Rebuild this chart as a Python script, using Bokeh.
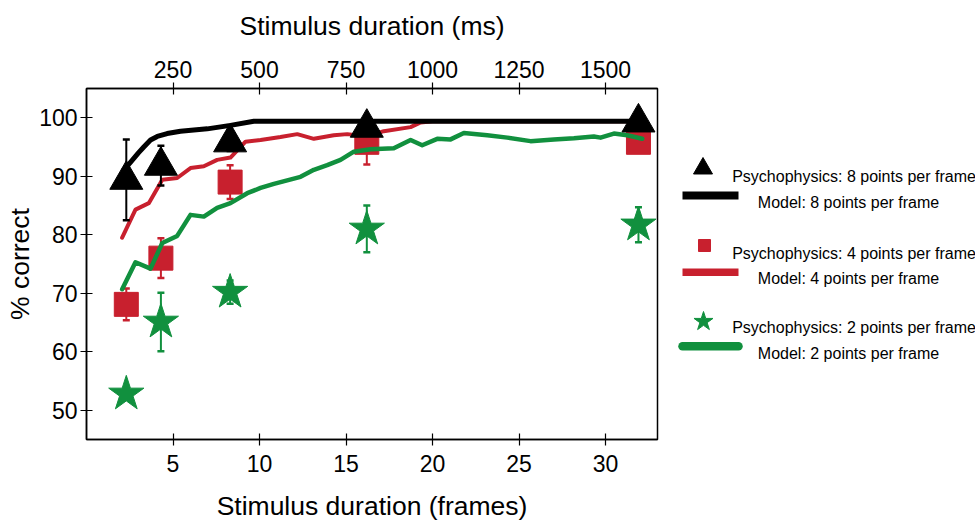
from bokeh.plotting import figure
from bokeh.models import Range1d, LinearAxis, FixedTicker
from bokeh.layouts import row
from bokeh.embed import file_html
from bokeh.resources import INLINE
from bokeh.core.properties import value

FONT = "Liberation Sans"
BLACK = "#000000"
RED = "#c8202e"
GREEN = "#11903e"

# ---------------- data ----------------
frame_ticks = [5, 10, 15, 20, 25, 30]
ms_ticks = [250, 500, 750, 1000, 1250, 1500]
y_ticks = [50, 60, 70, 80, 90, 100]

psy_x = [2.3, 4.3, 8.3, 16.2, 31.9]
psy8_y = [89.4, 91.8, 95.8, 98.3, 99.2]
psy8_err = [6.9, 3.4, 1.5, 1.0, 0.5]
psy4_y = [68.1, 76.0, 89.0, 95.8, 95.8]
psy4_err = [2.7, 3.4, 2.9, 3.8, 1.5]
psy2_y = [52.8, 65.1, 70.2, 81.0, 81.7]
psy2_err = [1.0, 5.0, 2.0, 4.0, 3.0]

model8_x = [2.16, 2.6, 3.0, 3.31, 3.7, 4.09, 4.66, 5.43, 6.98, 8.32, 9.67, 32.0]
model8_y = [91.1, 92.6, 94.0, 95.0, 96.2, 96.8, 97.3, 97.7, 98.1, 98.7, 99.4, 99.4]

model4_x = [2.06, 2.83, 3.60, 4.38, 5.24, 6.01, 6.78, 7.55, 8.32, 9.19, 10.06,
            11.21, 12.18, 13.14, 14.29, 15.07, 16.23, 17.18, 18.73, 19.31, 20.0, 32.0]
model4_y = [79.5, 84.3, 85.4, 89.4, 89.7, 91.4, 91.7, 92.8, 93.2, 95.9, 96.2,
            96.7, 97.2, 96.4, 97.0, 97.2, 96.8, 97.7, 98.4, 99.2, 99.4, 99.4]

model2_x = [2.06, 2.83, 3.70, 4.38, 5.24, 6.01, 6.78, 7.55, 8.32, 9.29, 10.06,
            10.83, 11.60, 12.37, 13.14, 13.91, 14.68, 15.45, 16.42, 17.76, 18.73,
            19.40, 20.27, 21.04, 21.81, 23.16, 24.32, 25.66, 27.01, 28.17, 29.32,
            29.71, 30.48, 31.25, 32.12]
model2_y = [70.7, 75.3, 74.2, 78.6, 79.8, 83.4, 83.1, 84.6, 85.4, 87.1, 88.0,
            88.7, 89.3, 89.9, 91.1, 91.9, 92.8, 94.2, 94.6, 94.8, 96.2,
            95.3, 96.4, 96.3, 97.4, 97.0, 96.6, 96.0, 96.3, 96.5, 96.8,
            96.6, 97.3, 97.0, 96.4]

top_title = "Stimulus duration (ms)"
bottom_title = "Stimulus duration (frames)"
y_title = "% correct"

legend_labels = [
    "Psychophysics: 8 points per frame", "Model: 8 points per frame",
    "Psychophysics: 4 points per frame", "Model: 4 points per frame",
    "Psychophysics: 2 points per frame", "Model: 2 points per frame",
]

H = 523

# ---------------- main plot ----------------
p = figure(width=661, height=H, x_range=Range1d(0, 33), y_range=Range1d(45, 105),
           toolbar_location=None, output_backend="svg",
           x_axis_location=None, y_axis_location=None,
           min_border_left=86, min_border_right=4, min_border_top=88, min_border_bottom=83)
p.frame_align = False
p.grid.visible = False
p.outline_line_color = "black"
p.outline_line_width = 1.5
p.background_fill_color = "white"
p.border_fill_color = "white"

bottom_axis = LinearAxis(ticker=FixedTicker(ticks=frame_ticks), axis_label=bottom_title)
left_axis = LinearAxis(ticker=FixedTicker(ticks=y_ticks), axis_label=y_title)
p.extra_x_ranges = {"ms": Range1d(0, 1650)}
top_axis = LinearAxis(x_range_name="ms", ticker=FixedTicker(ticks=ms_ticks),
                      axis_label=top_title)
p.add_layout(bottom_axis, "below")
p.add_layout(left_axis, "left")
p.add_layout(top_axis, "above")

for ax in [bottom_axis, left_axis, top_axis]:
    ax.axis_line_color = "black"
    ax.axis_line_width = 1.5
    ax.major_tick_line_color = "black"
    ax.major_tick_line_width = 1.2
    ax.major_tick_in = 6
    ax.major_tick_out = 6
    ax.minor_tick_line_color = None
    ax.major_label_text_font = FONT
    ax.major_label_text_font_size = "23px"
    ax.major_label_text_color = "black"
    ax.axis_label_text_font = FONT
    ax.axis_label_text_font_size = "26.5px"
    ax.axis_label_text_font_style = "normal"
    ax.axis_label_text_color = "black"

top_axis.major_label_standoff = 5
top_axis.axis_label_standoff = 17
bottom_axis.major_label_standoff = 9
bottom_axis.axis_label_standoff = 16
left_axis.major_label_standoff = 3
left_axis.axis_label_standoff = 1


def err_bars(fig, xs, ys, errs, color):
    lo = [y - e for y, e in zip(ys, errs)]
    hi = [y + e for y, e in zip(ys, errs)]
    fig.segment(x0=xs, y0=lo, x1=xs, y1=hi, line_color=color, line_width=2)
    fig.scatter(x=xs + xs, y=lo + hi, marker="dash", size=7, line_color=color, line_width=2.5)


# squares (4 ppf)
err_bars(p, psy_x, psy4_y, psy4_err, RED)
p.scatter(x=psy_x, y=psy4_y, marker="square", size=24, fill_color=RED, line_color=RED)

# model lines
p.line(model2_x, model2_y, line_color=GREEN, line_width=4.5, line_join="round", line_cap="round")
p.line(model4_x, model4_y, line_color=RED, line_width=4, line_join="round", line_cap="round")
p.line(model8_x, model8_y, line_color=BLACK, line_width=5, line_join="round", line_cap="round")

# triangles (8 ppf)
err_bars(p, psy_x, psy8_y, psy8_err, BLACK)
p.scatter(x=psy_x, y=psy8_y, marker="triangle", size=33, fill_color=BLACK, line_color=BLACK)

# stars (2 ppf)
err_bars(p, psy_x, psy2_y, psy2_err, GREEN)
p.scatter(x=psy_x, y=psy2_y, marker="star", size=37, fill_color=GREEN, line_color=GREEN)

# ---------------- legend panel ----------------
LW = 314
leg = figure(width=LW, height=H, x_range=Range1d(0, LW), y_range=Range1d(H, 0),
             toolbar_location=None, output_backend="svg",
             x_axis_location=None, y_axis_location=None,
             min_border_left=0, min_border_right=0, min_border_top=0, min_border_bottom=0)
leg.frame_align = False
leg.grid.visible = False
leg.outline_line_color = None

leg.scatter(x=[41.5], y=[168], marker="triangle", size=19, fill_color=BLACK, line_color=BLACK)
leg.scatter(x=[43], y=[245], marker="square", size=12, fill_color=RED, line_color=RED)
leg.scatter(x=[42], y=[321], marker="star", size=20, fill_color=GREEN, line_color=GREEN)

leg.segment(x0=[21], y0=[195], x1=[77], y1=[195], line_color=BLACK, line_width=8)
leg.segment(x0=[21], y0=[271.7], x1=[77], y1=[271.7], line_color=RED, line_width=7.5)
leg.segment(x0=[21], y0=[345.7], x1=[77], y1=[345.7], line_color=GREEN, line_width=8.5,
            line_cap="round")

psy_tx = 70.7
mod_tx = 96.3
leg.text(x=[psy_tx, mod_tx, psy_tx, mod_tx, psy_tx, mod_tx],
         y=[175.5, 201.7, 253.3, 278.3, 326.7, 353.3],
         text=legend_labels, text_font=value(FONT), text_font_size="16px",
         text_color="black", text_baseline="alphabetic", text_align="left")

layout = row(p, leg, spacing=0)
open("out.html", "w").write(file_html(layout, INLINE))
